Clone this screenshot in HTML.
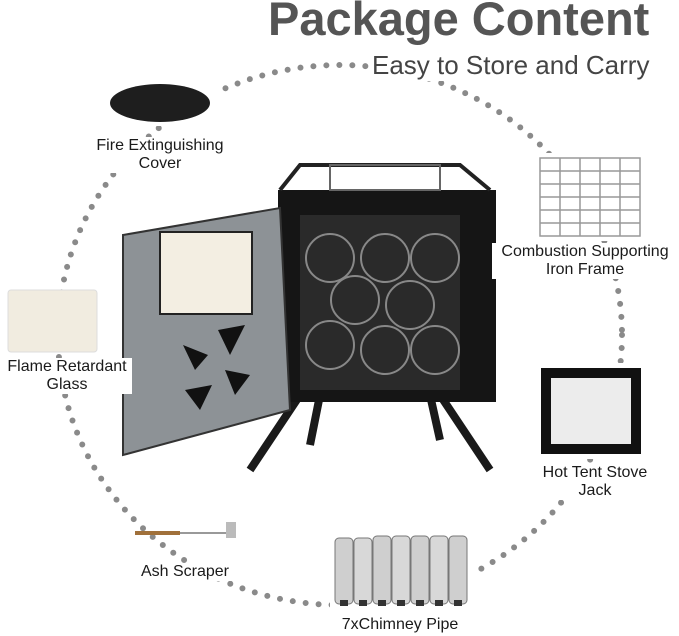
<!DOCTYPE html>
<html><head><meta charset="utf-8"><style>
body{margin:0;width:679px;height:636px;background:#fff;position:relative;overflow:hidden;font-family:"Liberation Sans",sans-serif}
.t{position:absolute;color:#1a1a1a;font-size:16px;text-align:center;line-height:18px;background:#fff}
</style></head><body>
<svg width="679" height="636" style="position:absolute;left:0;top:0">
<ellipse cx="340" cy="335" rx="282" ry="270" fill="none" stroke="#8a8a8a" stroke-width="6" stroke-linecap="round" stroke-dasharray="0 13"/>
<rect x="105" y="80" width="112" height="46" fill="#fff"/>
<ellipse cx="160" cy="103" rx="50" ry="19" fill="#1e1e1e"/>
<rect x="535" y="153" width="110" height="88" fill="#fff"/>
<g stroke="#999" stroke-width="1.5" fill="none">
<rect x="540" y="158" width="100" height="78"/>
<path d="M540 171H640M540 184H640M540 197H640M540 210H640M540 223H640M560 158V236M580 158V236M600 158V236M620 158V236"/>
</g>
<rect x="8" y="290" width="89" height="62" rx="3" fill="#f1ece0" stroke="#ddd"/>
<rect x="536" y="363" width="110" height="96" fill="#fff"/>
<rect x="541" y="368" width="100" height="86" fill="#111"/>
<rect x="551" y="378" width="80" height="66" fill="#ececec"/>
<line x1="135" y1="533" x2="180" y2="533" stroke="#a0703a" stroke-width="4"/>
<line x1="180" y1="533" x2="228" y2="533" stroke="#999" stroke-width="2"/>
<rect x="226" y="522" width="10" height="16" fill="#bbb"/>
<rect x="330" y="530" width="145" height="82" fill="#fff"/>
<g>
<rect x="335" y="538" width="18" height="66" rx="4" fill="#cfcfcf" stroke="#777"/>
<rect x="354" y="538" width="18" height="66" rx="4" fill="#d8d8d8" stroke="#777"/>
<rect x="373" y="536" width="18" height="68" rx="4" fill="#cfcfcf" stroke="#777"/>
<rect x="392" y="536" width="18" height="68" rx="4" fill="#d8d8d8" stroke="#777"/>
<rect x="411" y="536" width="18" height="68" rx="4" fill="#cfcfcf" stroke="#777"/>
<rect x="430" y="536" width="18" height="68" rx="4" fill="#d8d8d8" stroke="#777"/>
<rect x="449" y="536" width="18" height="68" rx="4" fill="#cfcfcf" stroke="#777"/>
<path d="M344 600v6M363 600v6M382 600v6M401 600v6M420 600v6M439 600v6M458 600v6" stroke="#333" stroke-width="8"/>
</g>
<path d="M300 395L250 470M320 395L310 445M440 395L490 470M430 395L440 440" stroke="#1a1a1a" stroke-width="8"/>
<rect x="278" y="190" width="218" height="212" fill="#151515"/>
<rect x="300" y="215" width="160" height="175" fill="#2a2a2a"/>
<g fill="none" stroke="#888" stroke-width="2">
<circle cx="330" cy="258" r="24"/><circle cx="385" cy="258" r="24"/><circle cx="435" cy="258" r="24"/>
<circle cx="355" cy="300" r="24"/><circle cx="410" cy="305" r="24"/><circle cx="330" cy="345" r="24"/><circle cx="385" cy="350" r="24"/><circle cx="435" cy="350" r="24"/>
</g>
<path d="M280 190L300 165H460L490 190" fill="none" stroke="#222" stroke-width="4"/>
<rect x="330" y="165" width="110" height="25" fill="none" stroke="#666" stroke-width="2"/>
<polygon points="123,235 280,208 290,410 123,455" fill="#8d9296" stroke="#333" stroke-width="2"/>
<rect x="160" y="232" width="92" height="82" fill="#f3eee2" stroke="#222" stroke-width="2"/>
<g fill="#111">
<polygon points="218,330 245,325 230,355"/><polygon points="225,370 250,375 235,395"/><polygon points="185,390 212,385 200,410"/><polygon points="183,345 208,355 195,370"/>
</g>
</svg>
<div style="position:absolute;left:268px;top:-9px;font-size:47px;font-weight:bold;color:#555;background:#fff;white-space:nowrap">Package Content</div>
<div style="position:absolute;left:372px;top:50px;font-size:26px;color:#444;background:#fff;white-space:nowrap">Easy to Store and Carry</div>
<div class="t" style="left:85px;top:137px;width:150px">Fire Extinguishing<br>Cover</div>
<div class="t" style="left:492px;top:243px;width:186px">Combustion Supporting<br>Iron Frame</div>
<div class="t" style="left:2px;top:358px;width:130px">Flame Retardant<br>Glass</div>
<div class="t" style="left:540px;top:464px;width:110px">Hot Tent Stove<br>Jack</div>
<div class="t" style="left:135px;top:563px;width:100px">Ash Scraper</div>
<div class="t" style="left:338px;top:616px;width:124px">7xChimney Pipe</div>
</body></html>
